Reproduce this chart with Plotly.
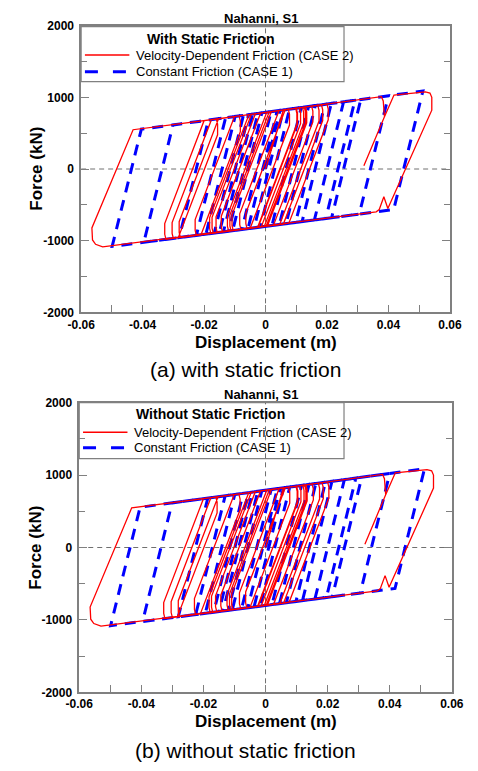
import plotly.graph_objects as go

# ---------------- data ----------------
# Velocity-dependent friction (CASE 2) hysteresis path: displacement (m), force (kN)
red_disp = [0, 0.0058,
            0.0074, 0.0078, 0.0078, -0.0050,
            -0.0105, -0.0109, -0.0109, 0.0019,
            0.0126, 0.0130, 0.0130, 0.0002,
            -0.0157, -0.0161, -0.0161, -0.0033,
            0.0098, 0.0102, 0.0102, -0.0026,
            -0.0178, -0.0182, -0.0182, -0.0054,
            0.0182, 0.0186, 0.0186, 0.0058,
            -0.0277, -0.0281, -0.0281, -0.0153,
            0.0150, 0.0154, 0.0154, 0.0026,
            -0.0324, -0.0328, -0.0328, -0.0200,
            0.0377, 0.0383, 0.0387, 0.0418,
            0.0520, 0.0535, 0.0541, 0.0541, 0.0398, 0.0385, 0.0370, 0.0360,
            -0.0530, -0.0553, -0.0563, -0.0565, -0.0431,
            -0.0160, -0.0156, -0.0156, -0.0284,
            -0.0300, -0.0304, -0.0304, -0.0176,
            -0.0086, -0.0082, -0.0082, -0.0210,
            -0.0225, -0.0229, -0.0229, -0.0101,
            0.0100, 0.0104, 0.0104, -0.0024,
            -0.0140, -0.0144, -0.0144, -0.0016,
            0.0200, 0.0204, 0.0204, 0.0076,
            -0.0120, -0.0124, -0.0124, 0.0004,
            0.0130, 0.0134, 0.0134, 0.0006,
            -0.0080, -0.0084, -0.0084, 0.0044,
            0.0110, 0.0114, 0.0114, -0.0014,
            -0.0060, -0.0064, -0.0064, 0.0064,
            0.0120, 0.0124, 0.0124, -0.0004,
            -0.0112, -0.0116, -0.0116, 0.0012,
            0.0170, 0.0174, 0.0174, 0.0046,
            -0.0170, -0.0174, -0.0174, -0.0046,
            0.0377, 0.0383, 0.0387, 0.0320]
red_force = [0, 824,
             833, 763, 613, -828,
             -859, -789, -639, 801,
             863, 793, 643, -799,
             -888, -818, -668, 771,
             847, 777, 627, -815,
             -900, -830, -680, 759,
             896, 826, 676, -768,
             -955, -885, -735, 701,
             877, 807, 657, -785,
             -981, -911, -761, 674,
             1009, 950, 730, 1032,
             1075, 1060, 1000, 820, -550, -388, -565, -598,
             -1085, -1050, -990, -822, 548,
             697, 627, 477, -959,
             -968, -898, -748, 688,
             740, 670, 520, -918,
             -926, -856, -706, 731,
             848, 778, 628, -813,
             -878, -808, -658, 781,
             906, 836, 686, -757,
             -867, -797, -647, 792,
             865, 795, 645, -797,
             -845, -775, -625, 816,
             854, 784, 634, -808,
             -834, -764, -614, 827,
             860, 790, 640, -802,
             -863, -793, -643, 797,
             889, 819, 669, -774,
             -895, -825, -675, 763,
             1009, 950, 730, 45]

# Constant friction (CASE 1) hysteresis path
blue_disp = [0, 0.0047, 0.0116, 0.0021, -0.0107, -0.0012, 0.0193, 0.0098, -0.0167,
             -0.0072, 0.0162, 0.0067, -0.0281, -0.0186, 0.0291, 0.0196, -0.0396,
             -0.0301, 0.0400, 0.0305, -0.0499, -0.0404, 0.0512, 0.0417, -0.0225,
             -0.0130, 0.0310, 0.0215, -0.0194, -0.0099, 0.0254, 0.0159, -0.0137,
             -0.0042, 0.0214, 0.0119, -0.0077, 0.0018, 0.0078, -0.0017, -0.0057,
             0.0038, 0.0058, -0.0037, -0.0150, -0.0055, 0.0140, 0.0045, -0.0120,
             -0.0025]
blue_force = [0, 817, 857, -788, -860, 783, 902, -745, -894,
              748, 884, -762, -957, 682, 959, -690, -1022,
              615, 1022, -629, -1079, 556, 1087, -566, -926,
              715, 970, -680, -909, 733, 937, -711, -877,
              766, 914, -733, -843, 800, 835, -810, -832,
              812, 824, -821, -884, 758, 871, -775, -867,
              776]

x_tick_vals = [-0.06, -0.04, -0.02, 0, 0.02, 0.04, 0.06]
x_tick_text = ["-0.06", "-0.04", "-0.02", "0", "0.02", "0.04", "0.06"]
y_tick_vals = [-2000, -1000, 0, 1000, 2000]
y_tick_text = ["-2000", "-1000", "0", "1000", "2000"]

red_name = "Velocity-Dependent Friction (CASE 2)"
blue_name = "Constant Friction (CASE 1)"
panel_title = "Nahanni, S1"
legend_titles = ["With Static Friction", "Without Static Friction"]
captions = ["(a) with static friction", "(b) without static friction"]

# ---------------- figure ----------------
W, H = 478, 771
FONT = "Arial, Liberation Sans, sans-serif"
RED = "#ff0000"
BLUE = "#0000ff"
AX = "#808080"


def px(x):
    return x / W


def py(y):
    return 1 - y / H


fig = go.Figure()

panels = [
    dict(xa="x", ya="y", xd=[px(71), px(461)], yd=[py(311), py(19)],
         leg=(71, 349, 20, 76), title_y=33, red_y=49, blue_y=66, samp_x=(75, 122), text_x=127,
         top=12, xt=342, cap=369, fy=165, cx=245),
    dict(xa="x2", ya="y2", xd=[px(69), px(463)], yd=[py(698), py(403)],
         leg=(69, 349, 403, 460), title_y=415, red_y=433, blue_y=449, samp_x=(73, 120), text_x=125,
         top=395, xt=728, cap=757, fy=551, cx=245),
]

shapes = []
annotations = []
for i, p in enumerate(panels):
    fig.add_trace(go.Scatter(x=blue_disp, y=blue_force, mode="lines", name=blue_name,
                             xaxis=p["xa"], yaxis=p["ya"], showlegend=False,
                             line=dict(color=BLUE, width=3, dash="11px,8px")))
    fig.add_trace(go.Scatter(x=red_disp, y=red_force, mode="lines", name=red_name,
                             xaxis=p["xa"], yaxis=p["ya"], showlegend=False,
                             line=dict(color=RED, width=1.3)))

    sfx = "" if i == 0 else "2"
    axis_common = dict(showgrid=False, zeroline=False, showline=True, linecolor=AX, linewidth=1.5,
                       ticks="inside", tickcolor=AX, tickwidth=1.2, ticklen=8,
                       tickfont=dict(family=FONT, size=12, color="black", weight="bold"))
    fig.update_layout(**{
        "xaxis" + sfx: dict(domain=p["xd"], range=[-0.06, 0.06], anchor="y" + sfx,
                            tickvals=x_tick_vals, ticktext=x_tick_text, mirror=True,
                            minor=dict(dtick=0.01, ticks="inside", ticklen=8, tickcolor=AX),
                            **axis_common),
        "yaxis" + sfx: dict(domain=p["yd"], range=[-2000, 2000], anchor="x" + sfx,
                            tickvals=y_tick_vals, ticktext=y_tick_text, mirror="ticks",
                            ticklabelstandoff=3,
                            minor=dict(dtick=500, ticks="inside", ticklen=6, tickcolor=AX),
                            **axis_common),
    })

    x0, x1, y0, y1 = p["leg"]
    shapes.append(dict(type="rect", xref="paper", yref="paper", x0=px(x0), x1=px(x1), y0=py(y1), y1=py(y0),
                       line=dict(color=AX, width=1.2), fillcolor="white", layer="below"))
    xa, ya = p["xa"], p["ya"]
    shapes.append(dict(type="line", xref=xa, yref=ya, x0=0, x1=0, y0=-2000, y1=2000,
                       line=dict(color="#707070", width=1, dash="5px,4px"), layer="below"))
    shapes.append(dict(type="line", xref=xa, yref=ya, x0=-0.06, x1=0.06, y0=0, y1=0,
                       line=dict(color="#707070", width=1, dash="5px,4px"), layer="below"))
    sx0, sx1 = p["samp_x"]
    shapes.append(dict(type="line", xref="paper", yref="paper", x0=px(sx0), x1=px(sx1),
                       y0=py(p["red_y"]), y1=py(p["red_y"]), line=dict(color=RED, width=1.5)))
    shapes.append(dict(type="line", xref="paper", yref="paper", x0=px(sx0), x1=px(sx1),
                       y0=py(p["blue_y"]), y1=py(p["blue_y"]), line=dict(color=BLUE, width=3, dash="13px,15px")))

    annotations += [
        dict(text="<b>%s</b>" % legend_titles[i], x=px(208), y=py(p["title_y"]), xref="paper", yref="paper",
             showarrow=False, xanchor="center", yanchor="middle", font=dict(family=FONT, size=14, color="black")),
        dict(text=red_name, x=px(p["text_x"]), y=py(p["red_y"]), xref="paper", yref="paper",
             showarrow=False, xanchor="left", yanchor="middle", font=dict(family=FONT, size=13, color="black")),
        dict(text=blue_name, x=px(p["text_x"]), y=py(p["blue_y"]), xref="paper", yref="paper",
             showarrow=False, xanchor="left", yanchor="middle", font=dict(family=FONT, size=13, color="black")),
        dict(text="<b>%s</b>" % panel_title, x=px(261), y=py(p["top"]), xref="paper", yref="paper",
             showarrow=False, xanchor="center", yanchor="middle", font=dict(family=FONT, size=13, color="black")),
        dict(text="<b>Displacement (m)</b>", x=px(266), y=py(p["xt"]), xref="paper", yref="paper",
             showarrow=False, xanchor="center", yanchor="middle", font=dict(family=FONT, size=17, color="black")),
        dict(text="<b>Force (kN)</b>", x=px(23), y=py(p["fy"]), xref="paper", yref="paper", textangle=-90,
             showarrow=False, xanchor="center", yanchor="middle", font=dict(family=FONT, size=17, color="black")),
        dict(text=captions[i], x=px(p["cx"]), y=py(p["cap"]), xref="paper", yref="paper",
             showarrow=False, xanchor="center", yanchor="middle", font=dict(family=FONT, size=21, color="black")),
    ]

fig.update_layout(width=W, height=H, margin=dict(l=0, r=0, t=0, b=0),
                  paper_bgcolor="white", plot_bgcolor="white", showlegend=False,
                  shapes=shapes, annotations=annotations)

fig.write_html("out.html")
